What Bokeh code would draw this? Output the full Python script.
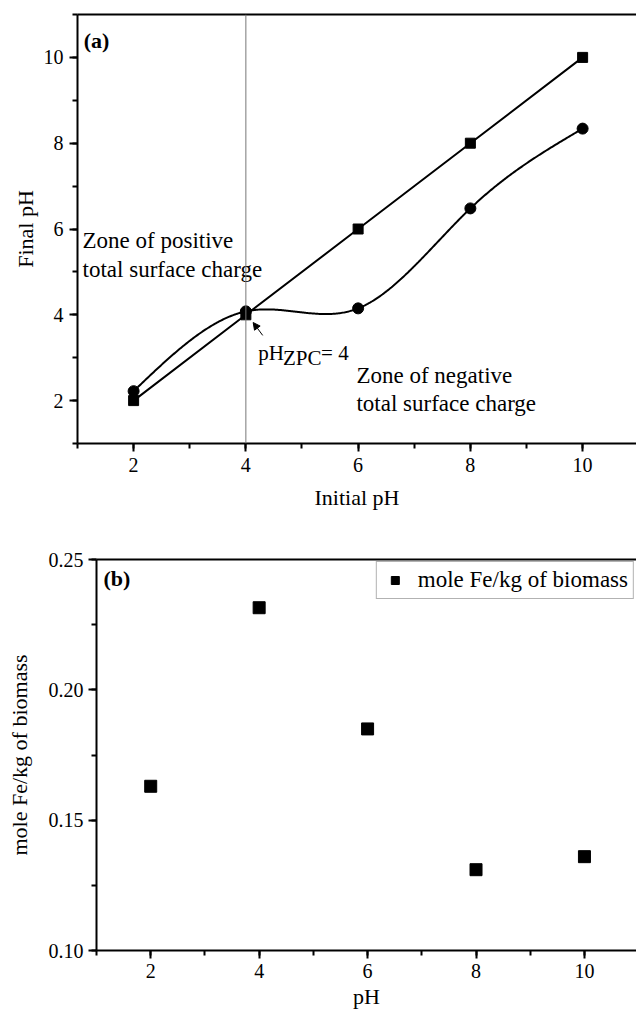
import numpy as np
from bokeh.plotting import figure
from bokeh.models import (SingleIntervalTicker, FixedTicker, Span, Arrow, NormalHead,
                          LinearAxis, Range1d, PrintfTickFormatter)
from bokeh.core.properties import value
from bokeh.embed import file_html
from bokeh.resources import INLINE

# ---------------- data ----------------
initial_ph = [2, 4, 6, 8, 10]
final_ph_squares = [2.0, 4.0, 6.0, 8.0, 10.0]
final_ph_circles = [2.22, 4.08, 4.15, 6.48, 8.34]

ph_b = [2, 4, 6, 8, 10]
mole_fe = [0.163, 0.2315, 0.185, 0.131, 0.136]
legend_label_b = "mole Fe/kg of biomass"

x_label_a = "Initial pH"
y_label_a = "Final pH"
x_label_b = "pH"
y_label_b = "mole Fe/kg of biomass"

FONT = "Liberation Serif"


def natural_spline(xs, ys, num=400):
    xs = np.asarray(xs, float)
    ys = np.asarray(ys, float)
    n = len(xs)
    h = np.diff(xs)
    A = np.zeros((n, n))
    b = np.zeros(n)
    A[0, 0] = 1
    A[-1, -1] = 1
    for i in range(1, n - 1):
        A[i, i - 1] = h[i - 1]
        A[i, i] = 2 * (h[i - 1] + h[i])
        A[i, i + 1] = h[i]
        b[i] = 6 * ((ys[i + 1] - ys[i]) / h[i] - (ys[i] - ys[i - 1]) / h[i - 1])
    M = np.linalg.solve(A, b)
    xx = np.linspace(xs[0], xs[-1], num)
    yy = np.empty_like(xx)
    for k, x in enumerate(xx):
        i = min(np.searchsorted(xs, x, side="right") - 1, n - 2)
        t1 = xs[i + 1] - x
        t0 = x - xs[i]
        yy[k] = (M[i] * t1 ** 3 / (6 * h[i]) + M[i + 1] * t0 ** 3 / (6 * h[i])
                 + (ys[i] / h[i] - M[i] * h[i] / 6) * t1
                 + (ys[i + 1] / h[i] - M[i + 1] * h[i] / 6) * t0)
    return xx, yy


def style_axes(p, x_int, y_int, y_fmt=None):
    p.grid.visible = False
    p.outline_line_color = None
    p.background_fill_color = "white"
    p.border_fill_color = "white"
    xax = p.below[0]
    yax = p.left[0]
    for ax in (xax, yax):
        ax.axis_line_width = 2
        ax.axis_line_color = "black"
        ax.major_tick_line_width = 2
        ax.minor_tick_line_width = 2
        ax.major_tick_in = 0
        ax.minor_tick_in = 0
        ax.major_tick_out = 8
        ax.minor_tick_out = 5
        ax.major_label_text_font = FONT
        ax.major_label_text_font_size = "20px"
        ax.major_label_text_color = "black"
        ax.axis_label_text_font = FONT
        ax.axis_label_text_font_style = "normal"
        ax.axis_label_text_font_size = "22px"
        ax.axis_label_text_color = "black"
    xax.ticker = SingleIntervalTicker(interval=x_int, num_minor_ticks=2)
    yax.ticker = SingleIntervalTicker(interval=y_int, num_minor_ticks=2)
    if y_fmt:
        yax.formatter = PrintfTickFormatter(format=y_fmt)
    top = LinearAxis(ticker=FixedTicker(ticks=[]), axis_line_width=2,
                     major_tick_out=0, minor_tick_out=0, major_tick_in=0, minor_tick_in=0,
                     major_label_text_font_size="0px")
    p.add_layout(top, "above")
    return xax, yax


X_END = 10.96

# ---------------- panel (a) ----------------
p1 = figure(width=636, height=520, x_range=Range1d(1, X_END), y_range=Range1d(1, 11),
            output_backend="svg", toolbar_location=None,
            min_border_left=77, min_border_right=0, min_border_top=14, min_border_bottom=77,
            styles={"vertical-align": "top"})
xa, ya = style_axes(p1, 2, 2)
xa.axis_label = x_label_a
ya.axis_label = y_label_a
xa.major_label_standoff = 6
xa.axis_label_standoff = 10
ya.major_label_standoff = 6
ya.axis_label_standoff = 3

p1.add_layout(Span(location=4, dimension="height", line_color="#777777", line_width=1))

p1.line(initial_ph, final_ph_squares, line_color="black", line_width=2)
sx, sy = natural_spline(initial_ph, final_ph_circles)
p1.line(sx, sy, line_color="black", line_width=2)
p1.scatter(initial_ph, final_ph_squares, marker="square", size=10, color="black")
p1.scatter(initial_ph, final_ph_circles, marker="circle", size=11, color="black")

p1.text(x=[1.11], y=[10.40], text=["(a)"], text_font=value(FONT), text_font_size="22px",
        text_font_style="bold", text_baseline="middle", text_align="left", text_color="black")
p1.text(x=[1.09, 1.09], y=[5.73, 5.06], text=["Zone of positive", "total surface charge"],
        text_font=value(FONT), text_font_size="23px", text_baseline="middle",
        text_align="left", text_color="black")
p1.text(x=[5.97, 5.97], y=[2.58, 1.93], text=["Zone of negative", "total surface charge"],
        text_font=value(FONT), text_font_size="23px", text_baseline="middle",
        text_align="left", text_color="black")
p1.text(x=[4.22], y=[3.10], text=["pH"], text_font=value(FONT), text_font_size="21px",
        text_baseline="alphabetic", text_align="left", text_color="black")
p1.text(x=[4.66], y=[3.00], text=["ZPC"], text_font=value(FONT), text_font_size="21px",
        text_baseline="alphabetic", text_align="left", text_color="black")
p1.text(x=[5.34], y=[3.10], text=["= 4"], text_font=value(FONT), text_font_size="21px",
        text_baseline="alphabetic", text_align="left", text_color="black")
p1.add_layout(Arrow(end=NormalHead(size=7, fill_color="black", line_color="black"),
                    x_start=4.30, y_start=3.52, x_end=4.13, y_end=3.82,
                    line_color="black", line_width=1))

# ---------------- panel (b) ----------------
p2 = figure(width=636, height=491, x_range=Range1d(1, X_END), y_range=Range1d(0.10, 0.25),
            output_backend="svg", toolbar_location=None,
            min_border_left=96, min_border_right=0, min_border_top=39, min_border_bottom=52,
            styles={"vertical-align": "top"})
xb, yb = style_axes(p2, 2, 0.05, "%.2f")
xb.axis_label = x_label_b
yb.axis_label = y_label_b
xb.major_label_standoff = 5
xb.axis_label_standoff = 3
yb.major_label_standoff = 5
yb.axis_label_standoff = 14

p2.scatter(ph_b, mole_fe, marker="square", size=12, color="black", legend_label=legend_label_b)
p2.text(x=[1.13], y=[0.2427], text=["(b)"], text_font=value(FONT), text_font_size="22px",
        text_font_style="bold", text_baseline="middle", text_align="left", text_color="black")

lg = p2.legend[0]
lg.location = "top_right"
lg.margin = 2
lg.padding = 5
lg.spacing = 0
lg.glyph_width = 26
lg.glyph_height = 20
lg.label_height = 20
lg.label_standoff = 10
lg.label_text_font = FONT
lg.label_text_font_size = "23px"
lg.label_text_color = "black"
lg.border_line_color = "#666666"
lg.border_line_width = 1
lg.background_fill_alpha = 1

open("out.html", "w").write(file_html([p1, p2], INLINE))
